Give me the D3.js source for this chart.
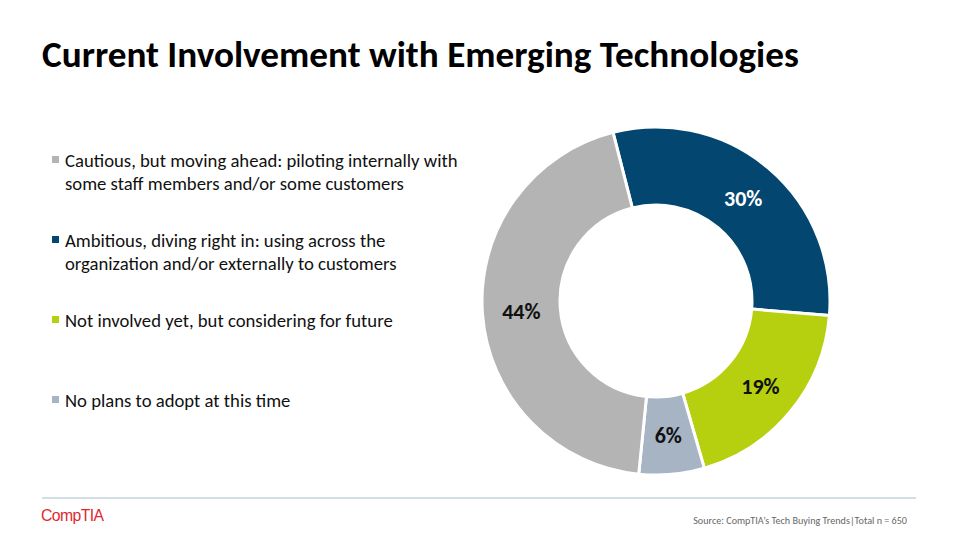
<!DOCTYPE html>
<html>
<head>
<meta charset="utf-8">
<script src="https://cdn.jsdelivr.net/npm/d3@7"></script>
<style>
html,body{margin:0;padding:0;background:#fff;}
svg{display:block;}
</style>
</head>
<body>
<svg id="chart" width="960" height="540"></svg>
<script>
const categories = [
  "Cautious, but moving ahead: piloting internally with some staff members and/or some customers",
  "Ambitious, diving right in: using across the organization and/or externally to customers",
  "Not involved yet, but considering for future",
  "No plans to adopt at this time"
];
const legendLines = [
  ["Cautious, but moving ahead: piloting internally with", "some staff members and/or some customers"],
  ["Ambitious, diving right in: using across the", "organization and/or externally to customers"],
  ["Not involved yet, but considering for future"],
  ["No plans to adopt at this time"]
];
const values = [44, 30, 19, 6];
const colors = ["#b4b4b4", "#03466f", "#b6d010", "#a6b4c3"];
const labelColors = ["#111", "#fff", "#111", "#111"];
const pieOrder = [1, 2, 3, 0]; // clockwise from top: Ambitious, Not involved, No plans, Cautious
const title = "Current Involvement with Emerging Technologies";
const source = "Source: CompTIA\u2019s Tech Buying Trends|Total n = 650";

const svg = d3.select("#chart");
const font = "Calibri, Carlito, Lato, 'Open Sans', sans-serif";

// Title
const t = svg.append("text").attr("x", 42).attr("y", 67)
  .attr("font-family", font).attr("font-weight", 700).attr("font-size", 31)
  .attr("fill", "#000").text(title);
let tw = t.node().getComputedTextLength();
t.attr("font-size", 31 * 757 / tw);

// Legend
const legendY = [162, 242, 322, 402];
const lg = svg.append("g");
const items = lg.selectAll("g").data(categories).join("g")
  .attr("transform", (d, i) => `translate(0,${legendY[i]})`);
items.append("rect").attr("x", 52).attr("y", -6).attr("width", 7).attr("height", 7)
  .attr("fill", (d, i) => colors[i]);
const txt = items.append("text").attr("font-family", font).attr("font-size", 16).attr("fill", "#111");
txt.selectAll("tspan").data((d, i) => legendLines[i]).join("tspan")
  .attr("x", 65).attr("y", (d, j) => 5 + j * 23).text(d => d);
const fw = txt.select("tspan").node().getComputedTextLength();
txt.attr("font-size", 16 * 393 / fw);

// Donut
const cx = 656, cy = 301, rOuter = 174, rInner = 96;
const startA = -14.3 * Math.PI / 180;
const pie = d3.pie().sort(null).value(i => values[i])
  .startAngle(startA).endAngle(startA + 2 * Math.PI);
const arcs = pie(pieOrder);
const arc = d3.arc().innerRadius(rInner).outerRadius(rOuter);
const g = svg.append("g").attr("transform", `translate(${cx},${cy})`);
g.selectAll("path").data(arcs).join("path")
  .attr("d", arc).attr("fill", d => colors[d.data])
  .attr("stroke", "#fff").attr("stroke-width", 3).attr("stroke-linejoin", "round");
g.selectAll("text").data(arcs).join("text")
  .attr("transform", d => `translate(${arc.centroid(d)})`)
  .attr("text-anchor", "middle").attr("dy", "0.36em")
  .attr("font-family", font).attr("font-weight", 700).attr("font-size", 22)
  .attr("fill", d => labelColors[d.data])
  .text(d => values[d.data] + "%");

// Footer
svg.append("line").attr("x1", 42).attr("x2", 916).attr("y1", 498).attr("y2", 498)
  .attr("stroke", "#a9bccb").attr("stroke-width", 1);
const logo = svg.append("text").attr("x", 41).attr("y", 521)
  .attr("font-family", "'Liberation Sans', Arial, sans-serif").attr("font-size", 14)
  .attr("letter-spacing", -0.6).attr("fill", "#e0282e").text("CompTIA");
const lw = logo.node().getComputedTextLength();
logo.attr("font-size", 14 * 62 / lw);
const s = svg.append("text").attr("x", 907).attr("y", 524).attr("text-anchor", "end")
  .attr("font-family", font).attr("font-size", 8).attr("fill", "#666").text(source);
const sw = s.node().getComputedTextLength();
s.attr("font-size", 8 * 214 / sw);
</script>
</body>
</html>
